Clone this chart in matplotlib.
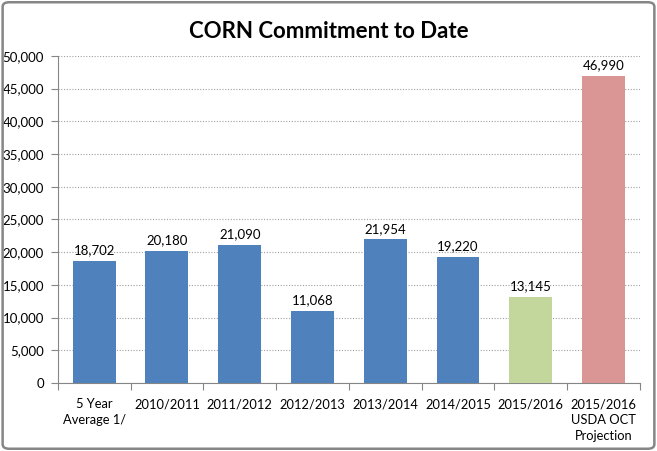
import matplotlib.pyplot as plt
from matplotlib.patches import FancyBboxPatch
from matplotlib.ticker import FuncFormatter, MultipleLocator

plt.rcParams['font.family'] = ['Lato', 'DejaVu Sans']

# Daten
categories = ['5 Year\nAverage 1/', '2010/2011', '2011/2012', '2012/2013',
              '2013/2014', '2014/2015', '2015/2016', '2015/2016\nUSDA OCT\nProjection']
values = [18702, 20180, 21090, 11068, 21954, 19220, 13145, 46990]
colors = ['#4F81BD'] * 6 + ['#C3D69B', '#D99694']

fig = plt.figure(figsize=(6.57, 4.51), dpi=100)
ax = fig.add_axes([0.088, 0.151, 0.886, 0.725])

x = range(len(categories))
bars = ax.bar(x, values, width=0.59, color=colors, zorder=3)

for xi, v in zip(x, values):
    ax.text(xi, v + 700, f'{v:,}', ha='center', va='bottom', fontsize=9.5, color='black')

ax.set_xlim(-0.5, len(categories) - 0.5)
ax.set_ylim(0, 50000)
ax.yaxis.set_major_locator(MultipleLocator(5000))
ax.yaxis.set_major_formatter(FuncFormatter(lambda v, p: f'{int(v):,}'))
ax.grid(axis='y', linestyle=(0, (1, 1.5)), color='#A0A0A0', linewidth=0.8, zorder=0)

ax.set_xticks([i + 0.5 for i in range(-1, len(categories))], minor=False)
ax.set_xticklabels([])
ax.set_xticks(list(x), minor=True)
ax.set_xticklabels(categories, minor=True, fontsize=9.3, linespacing=1.4)
ax.tick_params(axis='x', which='minor', length=0, pad=11)
ax.tick_params(axis='x', which='major', length=5, color='#868686')
ax.tick_params(axis='y', length=5, color='#868686', labelsize=9.5, pad=5)

for s in ['top', 'right']:
    ax.spines[s].set_visible(False)
for s in ['left', 'bottom']:
    ax.spines[s].set_color('#868686')

fig.text(0.5, 0.93, 'CORN Commitment to Date', ha='center', va='center',
         fontsize=16, fontweight='bold')

border = FancyBboxPatch((0.004, 0.005), 0.992, 0.99, boxstyle='round,pad=0,rounding_size=0.01',
                        transform=fig.transFigure, fill=False, edgecolor='#868686', linewidth=1.8)
fig.patches.append(border)

fig.savefig('out.png', dpi=100)
